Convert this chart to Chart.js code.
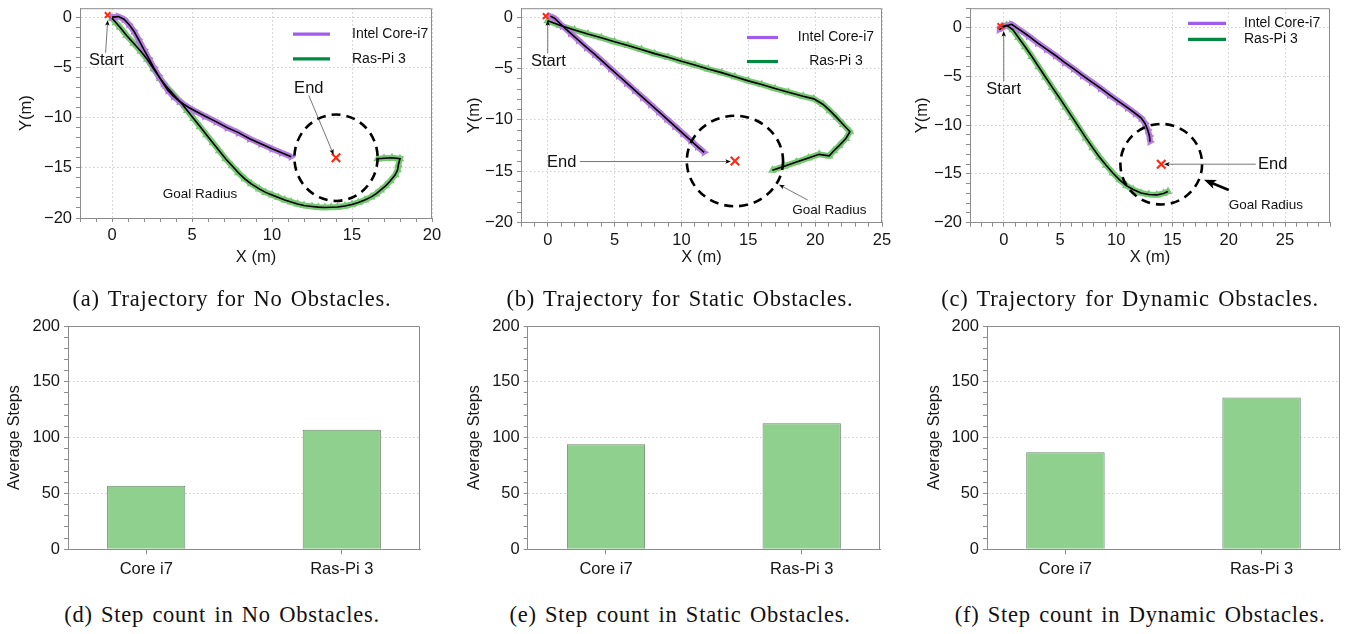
<!DOCTYPE html>
<html>
<head>
<meta charset="utf-8">
<title>Trajectories and step counts</title>
<script src="https://cdn.jsdelivr.net/npm/chart.js"></script>
<style>
  body { margin: 0; background: #fff; width: 1355px; height: 634px; position: relative; overflow: hidden; }
  canvas { position: absolute; }
  .cap { position: absolute; transform: translateX(-50%); white-space: nowrap;
         font-family: "Liberation Serif", "Times New Roman", serif; font-size: 22.5px;
         letter-spacing: 0.75px; word-spacing: 2px; line-height: 26px; color: #111; }
</style>
</head>
<body>
<canvas id="trajNone" width="450" height="271" style="left:0;top:0"></canvas>
<canvas id="trajStatic" width="450" height="271" style="left:450px;top:0"></canvas>
<canvas id="trajDynamic" width="455" height="271" style="left:900px;top:0"></canvas>
<canvas id="stepsNone" width="450" height="275" style="left:0;top:310px"></canvas>
<canvas id="stepsStatic" width="450" height="275" style="left:450px;top:310px"></canvas>
<canvas id="stepsDynamic" width="455" height="275" style="left:900px;top:310px"></canvas>

<div class="cap" style="left:232px;top:286px">(a) Trajectory for No Obstacles.</div>
<div class="cap" style="left:680px;top:286px">(b) Trajectory for Static Obstacles.</div>
<div class="cap" style="left:1130px;top:286px">(c) Trajectory for Dynamic Obstacles.</div>
<div class="cap" style="left:222px;top:602px">(d) Step count in No Obstacles.</div>
<div class="cap" style="left:680px;top:602px">(e) Step count in Static Obstacles.</div>
<div class="cap" style="left:1140px;top:602px">(f) Step count in Dynamic Obstacles.</div>

<script>
// ---- data ----
const seriesNames = ['Intel Core-i7', 'Ras-Pi 3'];

// (a) no obstacles, [x, y] in metres
const noObsCoreI7 = [[0,0],[0.4,0.05],[0.75,-0.2],[1.05,-0.7],[1.35,-1.35],[1.65,-2.2],[2.0,-3.25],
  [2.3,-4.1],[2.6,-5.0],[2.9,-5.8],[3.2,-6.6],[3.5,-7.3],[3.85,-7.9],[4.2,-8.35],[4.5,-8.7],[4.8,-9.0],
  [5.2,-9.35],[5.8,-9.85],[6.5,-10.4],[7.2,-11.0],[7.9,-11.5],[8.6,-12.1],[9.3,-12.6],[10.0,-13.1],
  [10.6,-13.5],[11.2,-13.9]];
const noObsRasPi = [[0,-0.1],[0.25,-0.55],[0.5,-1.0],[0.9,-1.8],[1.35,-2.6],[1.8,-3.4],[2.2,-4.2],
  [2.6,-5.15],[3.0,-6.1],[3.4,-6.9],[3.85,-7.7],[4.3,-8.5],[4.7,-9.3],[5.1,-10.1],[5.5,-10.9],[5.9,-11.7],
  [6.3,-12.5],[6.7,-13.3],[7.1,-14.1],[7.5,-14.8],[7.9,-15.5],[8.3,-16.1],[8.7,-16.6],[9.2,-17.1],
  [9.6,-17.45],[10.0,-17.7],[10.4,-17.95],[10.8,-18.2],[11.2,-18.4],[11.6,-18.6],[12.0,-18.75],[12.5,-18.85],
  [12.9,-18.92],[13.3,-18.95],[13.7,-18.93],[14.1,-18.9],[14.55,-18.8],[15.0,-18.65],[15.4,-18.45],
  [15.8,-18.2],[16.2,-17.9],[16.5,-17.6],[16.8,-17.2],[17.1,-16.8],[17.4,-16.3],[17.7,-15.7],[17.85,-15.2],
  [17.9,-14.7],[18.0,-14.1],[17.5,-14.0],[17.0,-14.05],[16.6,-14.1]];

// (b) static obstacles
const staticCoreI7 = [[0.2,0.1],[0.5,-0.1],[1.1,-0.85],[1.7,-1.55],[2.3,-2.25],[2.9,-2.95],[3.5,-3.6],
  [4.1,-4.3],[4.7,-5.0],[5.3,-5.7],[5.9,-6.4],[6.5,-7.1],[7.1,-7.8],[7.7,-8.5],[8.3,-9.2],[8.9,-9.9],
  [9.5,-10.6],[10.1,-11.3],[10.7,-12.0],[11.2,-12.6],[11.7,-13.15]];
const staticRasPi = [[0,-0.35],[0.9,-0.8],[2,-1.25],[3,-1.65],[4,-2.0],[5,-2.4],[6,-2.75],[7,-3.15],[8,-3.55],
  [9,-3.9],[10,-4.3],[11,-4.65],[12,-5.05],[13,-5.4],[14,-5.8],[15,-6.2],[16,-6.55],[17,-6.95],[18,-7.3],
  [19.1,-7.7],[19.9,-7.95],[20.6,-8.5],[21.1,-9.1],[21.6,-9.75],[22.1,-10.45],[22.6,-11.15],[22.3,-11.8],
  [21.8,-12.5],[21.4,-13.0],[21.05,-13.5],[20.3,-13.35],[19.5,-13.7],[18.6,-14.1],[17.7,-14.5],[16.8,-14.9]];

// (c) dynamic obstacles
const dynamicCoreI7 = [[-0.4,-0.2],[0.1,0.15],[0.7,0.35],[1.4,-0.2],[2.2,-0.85],[3.0,-1.55],[3.8,-2.2],
  [4.6,-2.85],[5.4,-3.55],[6.2,-4.2],[7.0,-4.9],[7.8,-5.55],[8.6,-6.2],[9.4,-6.9],[10.2,-7.55],[11.0,-8.2],
  [11.7,-8.8],[12.2,-9.25],[12.55,-9.8],[12.8,-10.5],[12.95,-11.1],[13.0,-11.7]];
const dynamicRasPi = [[-0.2,0.1],[0.25,0.25],[0.8,-0.2],[1.3,-1.0],[1.9,-1.95],[2.5,-2.95],[3.1,-4.0],
  [3.7,-5.05],[4.3,-6.1],[4.9,-7.1],[5.5,-8.15],[6.1,-9.2],[6.7,-10.25],[7.3,-11.3],[7.9,-12.3],[8.5,-13.25],
  [9.1,-14.1],[9.7,-14.9],[10.3,-15.6],[10.9,-16.2],[11.5,-16.6],[12.2,-16.95],[12.9,-17.1],[13.6,-17.15],
  [14.2,-17.0],[14.6,-16.8]];

const startPoints = [[-0.27,0.2],[-0.15,0.1],[-0.3,0.17]];
const goalCentre = [14, -14];

// (d)-(f) average steps
const barCategories = ['Core i7', 'Ras-Pi 3'];
const stepsNoObs = [57, 107];
const stepsStatic = [94, 113];
const stepsDynamic = [87, 136];

// ---- styling ----
Chart.defaults.font.family = "'Liberation Sans', Arial, Helvetica, sans-serif";
Chart.defaults.color = '#161616';
Chart.defaults.animation = false;

const axisGrey = '#8c8c8c';
const purpleBand = 'rgb(180,124,222)';
const greenBand = 'rgb(118,200,114)';
const purpleKey = 'rgb(160,92,234)';
const greenKey = 'rgb(0,138,66)';
const red = '#ff2a14';

const isMajor = (v, m) => Math.abs(v / m - Math.round(v / m)) < 1e-6;
const fmt = v => String(Math.round(v)).replace('-', '\u2212');

function minorAxis(title, range, step, major, size, horizontal, titleSize) {
  return {
    type: 'linear', min: range[0], max: range[1],
    afterFit: s => {
      if (horizontal) s.height = size; else s.width = size;
      s.paddingTop = s.paddingBottom = s.paddingLeft = s.paddingRight = 0;
    },
    ticks: {
      stepSize: step, autoSkip: false, includeBounds: false, maxRotation: 0,
      padding: 4, font: { size: 16.5 }, color: '#161616',
      callback: v => isMajor(v, major) ? fmt(v) : ''
    },
    grid: {
      color: c => (c.tick && isMajor(c.tick.value, major)) ? '#cdcdcd' : 'rgba(0,0,0,0)',
      tickLength: 4, tickColor: axisGrey, lineWidth: 1
    },
    border: { color: axisGrey, dash: [1.5, 2.5] },
    title: { display: !!title, text: title, font: { size: titleSize || 16.5 }, padding: 4, color: '#161616' }
  };
}

function arrow(ctx, p1, p2, width, head, colour) {
  const ang = Math.atan2(p2[1] - p1[1], p2[0] - p1[0]);
  ctx.strokeStyle = colour; ctx.fillStyle = '#000'; ctx.lineWidth = width;
  ctx.beginPath();
  ctx.moveTo(p1[0], p1[1]);
  ctx.lineTo(p2[0] - Math.cos(ang) * head * 0.6, p2[1] - Math.sin(ang) * head * 0.6);
  ctx.stroke();
  ctx.beginPath();
  ctx.moveTo(p2[0], p2[1]);
  ctx.lineTo(p2[0] - head * Math.cos(ang - 0.38), p2[1] - head * Math.sin(ang - 0.38));
  ctx.lineTo(p2[0] - head * 0.7 * Math.cos(ang), p2[1] - head * 0.7 * Math.sin(ang));
  ctx.lineTo(p2[0] - head * Math.cos(ang + 0.38), p2[1] - head * Math.sin(ang + 0.38));
  ctx.closePath();
  ctx.fill();
}

// frame, goal circle, notes and the inset legend
function figureExtras(cfg) {
  return {
    id: 'figureExtras',
    afterDatasetsDraw(chart) {
      const { ctx, chartArea: a, scales: { x, y } } = chart;
      const px = p => [x.getPixelForValue(p[0]), y.getPixelForValue(p[1])];
      ctx.save();
      ctx.strokeStyle = axisGrey; ctx.lineWidth = 1;
      ctx.beginPath();
      ctx.moveTo(a.left, a.top + 0.5); ctx.lineTo(a.right - 0.5, a.top + 0.5); ctx.lineTo(a.right - 0.5, a.bottom);
      ctx.stroke();
      if (cfg.goal) {
        const c = px(goalCentre);
        const rx = Math.abs(x.getPixelForValue(goalCentre[0] + cfg.goal.rx) - c[0]);
        const ry = Math.abs(y.getPixelForValue(goalCentre[1] + cfg.goal.ry) - c[1]);
        ctx.setLineDash([9, 6]); ctx.lineWidth = 2.6; ctx.strokeStyle = '#000';
        ctx.beginPath(); ctx.ellipse(c[0], c[1], rx, ry, 0, 0, Math.PI * 2); ctx.stroke();
        ctx.setLineDash([]);
      }
      (cfg.arrows || []).forEach(ar => arrow(ctx, px(ar.from), px(ar.to), ar.width || 0.8, ar.head || 6, ar.colour || '#555'));
      ctx.fillStyle = '#111'; ctx.textAlign = 'center'; ctx.textBaseline = 'middle';
      (cfg.notes || []).forEach(n => {
        ctx.font = n.size + "px 'Liberation Sans', Arial, sans-serif";
        const p = px(n.at);
        ctx.fillText(n.text, p[0], p[1]);
      });
      if (cfg.legend) {
        const L = cfg.legend;
        const keyed = chart.data.datasets.filter(d => d.keyColour);
        ctx.font = "14px 'Liberation Sans', Arial, sans-serif";
        keyed.forEach((d, i) => {
          const ly = a.top + L.rows[i];
          ctx.strokeStyle = d.keyColour; ctx.lineWidth = 3.2;
          ctx.beginPath(); ctx.moveTo(a.right - L.from, ly); ctx.lineTo(a.right - L.to, ly); ctx.stroke();
          ctx.textAlign = L.align || 'left';
          ctx.fillText(d.label, a.right - L.text, ly);
        });
      }
      ctx.restore();
    }
  };
}

const asPoints = arr => arr.map(p => ({ x: p[0], y: p[1] }));

function trajectoryChart(id, core, ras, start, f) {
  new Chart(document.getElementById(id), {
    type: 'scatter',
    data: {
      datasets: [
        { label: seriesNames[0], data: asPoints(core), showLine: true, keyColour: purpleKey,
          borderColor: purpleBand, borderWidth: 6, pointStyle: 'triangle', rotation: 90, pointRadius: 5,
          pointBackgroundColor: purpleBand, pointBorderColor: purpleBand, pointBorderWidth: 0, order: 3 },
        { label: seriesNames[1], data: asPoints(ras), showLine: true, keyColour: greenKey,
          borderColor: greenBand, borderWidth: 6, pointStyle: 'triangle', pointRadius: 5,
          pointBackgroundColor: greenBand, pointBorderColor: greenBand, pointBorderWidth: 0, order: 3 },
        { data: asPoints(core), showLine: true, borderColor: '#000', borderWidth: 1.6, pointRadius: 0, order: 2 },
        { data: asPoints(ras), showLine: true, borderColor: '#000', borderWidth: 1.6, pointRadius: 0, order: 2 },
        { data: asPoints([start]), pointStyle: 'crossRot', pointRadius: 4, pointBorderWidth: 2,
          borderColor: red, backgroundColor: red, order: 1 },
        { data: asPoints([goalCentre]), pointStyle: 'crossRot', pointRadius: 6, pointBorderWidth: 2.2,
          borderColor: red, backgroundColor: red, order: 1 }
      ]
    },
    options: {
      responsive: false, animation: false,
      layout: { padding: f.pad },
      plugins: { legend: { display: false }, tooltip: { enabled: false } },
      scales: {
        x: minorAxis('X (m)', f.x, 1, 5, f.xSize, true),
        y: minorAxis('Y(m)', f.y, 1, 5, f.ySize, false)
      }
    },
    plugins: [figureExtras(f)]
  });
}

function stepChart(id, values, f) {
  const y = minorAxis('Average Steps', [0, 200], 10, 50, f.ySize, false, 16);
  new Chart(document.getElementById(id), {
    type: 'bar',
    data: {
      datasets: [{
        data: barCategories.map((c, i) => ({ x: i, y: values[i] })),
        backgroundColor: 'rgb(143,208,143)', borderColor: '#6d866d', borderWidth: 1,
        borderSkipped: 'bottom', barPercentage: 0.4, categoryPercentage: 1
      }]
    },
    options: {
      responsive: false, animation: false,
      layout: { padding: f.pad },
      plugins: { legend: { display: false }, tooltip: { enabled: false } },
      scales: {
        x: {
          type: 'linear', min: -0.4, max: 1.4, offset: false,
          afterBuildTicks: s => { s.ticks = barCategories.map((c, i) => ({ value: i })); },
          afterFit: s => { s.height = f.xSize; s.paddingLeft = s.paddingRight = 0; },
          ticks: { autoSkip: false, maxRotation: 0, padding: 5, font: { size: 16.5 }, color: '#161616',
                   callback: v => barCategories[v] },
          grid: { drawOnChartArea: false, offset: false, tickLength: 5, tickColor: axisGrey },
          border: { color: axisGrey }
        },
        y: y
      }
    },
    plugins: [figureExtras(f)]
  });
}

trajectoryChart('trajNone', noObsCoreI7, noObsRasPi, startPoints[0], {
  pad: { left: 13, right: 18, top: 0, bottom: 0 }, x: [-2, 20], y: [-20, 0.89], xSize: 53, ySize: 67,
  goal: { rx: 2.6, ry: 4.3 },
  notes: [{ text: 'Start', at: [-0.35, -4.36], size: 16.5 }, { text: 'End', at: [12.3, -7.07], size: 16.5 },
          { text: 'Goal Radius', at: [5.5, -17.6], size: 13.5 }],
  arrows: [{ from: [-0.4, -3.55], to: [-0.27, -0.3] }, { from: [12.3, -7.8], to: [13.85, -13.7] }],
  legend: { from: 139, to: 102, text: 80, rows: [26, 50.7] }
});

trajectoryChart('trajStatic', staticCoreI7, staticRasPi, startPoints[1], {
  pad: { left: 11, right: 18, top: 0, bottom: 0 }, x: [-2, 25], y: [-20, 0.87], xSize: 48.3, ySize: 60,
  goal: { rx: 3.6, ry: 4.4 },
  notes: [{ text: 'Start', at: [0.05, -4.3], size: 16.5 }, { text: 'End', at: [1.05, -14.1], size: 16.5 },
          { text: 'Goal Radius', at: [21.07, -18.8], size: 13.5 }],
  arrows: [{ from: [0, -3.5], to: [0, -0.3] }, { from: [2.4, -14.05], to: [13.7, -14.05] },
           { from: [19.45, -17.8], to: [17.3, -16.3] }],
  legend: { from: 135, to: 104, text: 46, align: 'center', rows: [29.3, 53.3] }
});

trajectoryChart('trajDynamic', dynamicCoreI7, dynamicRasPi, startPoints[2], {
  pad: { left: 9, right: 25, top: 8.2, bottom: 0 }, x: [-3, 29], y: [-20, 2], xSize: 48.3, ySize: 61,
  goal: { rx: 3.63, ry: 4.13 },
  notes: [{ text: 'Start', at: [0, -6.3], size: 16.5 }, { text: 'End', at: [23.9, -14.0], size: 16.5 },
          { text: 'Goal Radius', at: [23.3, -18.2], size: 13.5 }],
  arrows: [{ from: [0, -5.5], to: [0, -0.35] }, { from: [22.4, -14.0], to: [14.25, -14.0] },
           { from: [20.0, -16.65], to: [17.8, -15.6], width: 2.6, head: 13, colour: '#000' }],
  legend: { from: 142, to: 104, text: 86, rows: [15.1, 31.1] }
});

stepChart('stepsNone', stepsNoObs, { pad: { left: 1.4, right: 30, top: 16, bottom: 0 }, xSize: 35.7, ySize: 66.6 });
stepChart('stepsStatic', stepsStatic, { pad: { left: 11.4, right: 20, top: 16, bottom: 0 }, xSize: 35.7, ySize: 66.3 });
stepChart('stepsDynamic', stepsDynamic, { pad: { left: 21.4, right: 15, top: 16, bottom: 0 }, xSize: 35.7, ySize: 65.6 });
</script>
</body>
</html>
